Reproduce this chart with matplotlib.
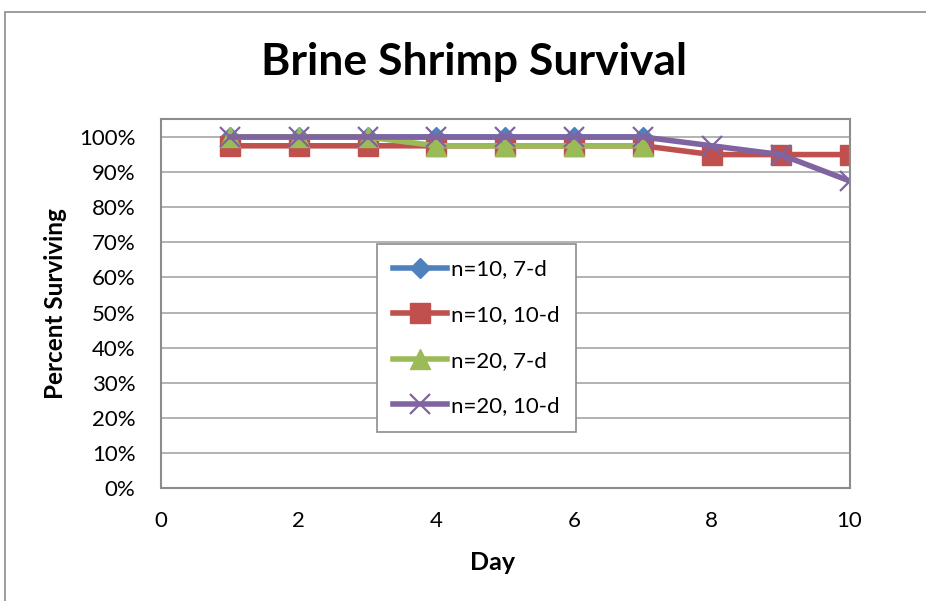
import matplotlib
matplotlib.use("Agg")
import matplotlib.pyplot as plt
from matplotlib.patches import Rectangle
from matplotlib.ticker import PercentFormatter

plt.rcParams['font.family'] = ['Lato', 'DejaVu Sans']

days = list(range(1, 11))
surv_n10_7d = [1.0, 1.0, 1.0, 1.0, 1.0, 1.0, 1.0]
surv_n10_10d = [0.975, 0.975, 0.975, 0.975, 0.975, 0.975, 0.975, 0.95, 0.95, 0.95]
surv_n20_7d = [1.0, 1.0, 1.0, 0.975, 0.975, 0.975, 0.975]
surv_n20_10d = [1.0, 1.0, 1.0, 1.0, 1.0, 1.0, 1.0, 0.975, 0.95, 0.875]
labels = ['n=10, 7-d', 'n=10, 10-d', 'n=20, 7-d', 'n=20, 10-d']

fig = plt.figure(figsize=(9.26, 6.01), dpi=100)
ax = fig.add_axes([0.1739, 0.188, 0.7435, 0.6132])

# outer chart border
fig.patches.append(Rectangle((4.5 / 926, -0.1), 1.2, 1 - 11.5 / 601 + 0.1,
                             transform=fig.transFigure, fill=False,
                             edgecolor='#8c8c8c', linewidth=1.2))

ax.plot(days[:7], surv_n10_7d, color='#4F81BD', lw=4, marker='D', ms=10,
        label=labels[0])
ax.plot(days, surv_n10_10d, color='#C0504D', lw=4, marker='s', ms=14,
        label=labels[1])
ax.plot(days[:7], surv_n20_7d, color='#9BBB59', lw=4, marker='^', ms=15,
        label=labels[2])
ax.plot(days, surv_n20_10d, color='#8064A2', lw=4, marker='x', ms=14,
        mew=1.6, label=labels[3])

ax.set_xlim(0, 10)
ax.set_ylim(0, 1.05)
ax.set_xticks(range(0, 11, 2))
ax.set_yticks([i / 10 for i in range(11)])
ax.yaxis.set_major_formatter(PercentFormatter(1.0, decimals=0))
ax.tick_params(length=0, labelsize=16)
ax.tick_params(axis='y', pad=18.5)
ax.tick_params(axis='x', pad=16.5)
ax.grid(axis='y', color='#a6a6a6', lw=1.2)
ax.set_axisbelow(True)
for s in ax.spines.values():
    s.set_color('#8c8c8c')
    s.set_linewidth(1.5)

fig.text(474 / 926, 1 - 62 / 601, 'Brine Shrimp Survival', fontsize=32,
         fontweight='bold', ha='center', va='center')
ax.set_xlabel('Day', fontsize=18, fontweight='bold')
ax.set_ylabel('Percent Surviving', fontsize=17.5, fontweight='bold')
ax.xaxis.set_label_coords(0.482, -0.172)
ax.yaxis.set_label_coords(-0.136, 0.5)

leg = ax.legend(loc='upper left', bbox_to_anchor=(377 / 926, 1 - 244 / 601),
                bbox_transform=fig.transFigure, fontsize=16, handlelength=2.45,
                fancybox=False, framealpha=1, edgecolor='#8c8c8c',
                labelspacing=1.15, borderpad=0.7, handletextpad=0.2,
                borderaxespad=0)
leg.get_frame().set_linewidth(1.2)

fig.savefig('out.png', dpi=100)
